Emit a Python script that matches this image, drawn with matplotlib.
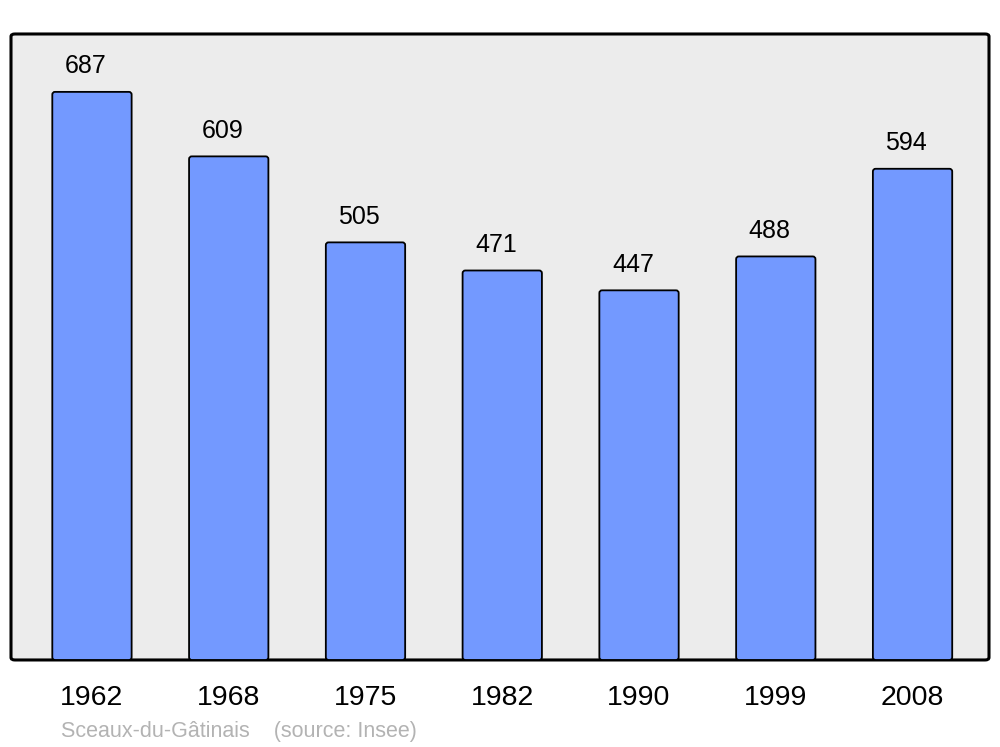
import matplotlib
matplotlib.use("Agg")
import matplotlib.pyplot as plt
from matplotlib.patches import FancyBboxPatch

years = ["1962", "1968", "1975", "1982", "1990", "1999", "2008"]
population = [687, 609, 505, 471, 447, 488, 594]
footer_name = "Sceaux-du-Gâtinais"
footer_source = "(source: Insee)"

plt.rcParams['font.family'] = ['Liberation Sans', 'DejaVu Sans']

fig = plt.figure(figsize=(10, 7.47), dpi=100)
ax = fig.add_axes([0.011, 0.1165, 0.978, 0.838])
ax.set_facecolor('none')
ax.set_xlim(-0.592, 6.559)
ax.set_ylim(0, 757)

# background with rounded border
bg = FancyBboxPatch((0, 0), 1, 1, boxstyle="round,pad=0,rounding_size=0.004",
                    transform=ax.transAxes, facecolor='#ececec', edgecolor='black',
                    linewidth=2.2, zorder=0, clip_on=False)
ax.add_patch(bg)

x = list(range(len(years)))
for xi, v in zip(x, population):
    bar = FancyBboxPatch((xi - 0.29, 0), 0.58, v,
                         boxstyle="round,pad=0,rounding_size=0.02",
                         mutation_aspect=(757 / 626) / (7.151 / 978),
                         facecolor='#7399ff', edgecolor='black', linewidth=1.3, zorder=2)
    ax.add_patch(bar)
    ax.text(xi - 0.045, v + 31, str(v), ha='center', va='center', fontsize=18, zorder=3)

for s in ax.spines.values():
    s.set_visible(False)
ax.set_xticks(x)
ax.set_xticklabels(years, fontsize=20.5)
ax.tick_params(axis='x', length=0, pad=17.8)
ax.set_yticks([])

fig.text(0.061, 0.0134, footer_name + "    " + footer_source, fontsize=15.5, color='#b3b3b3',
         ha='left', va='baseline')

fig.savefig("out.png", dpi=100)
